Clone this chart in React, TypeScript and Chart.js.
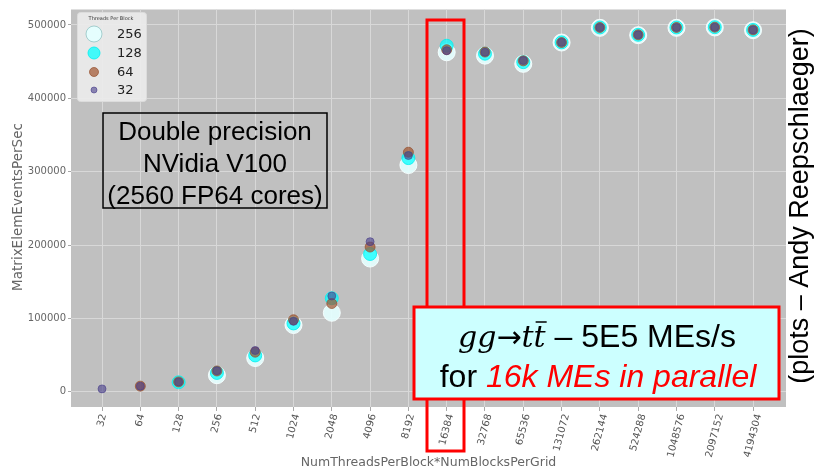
import React, { useEffect, useRef } from 'react';
import { Chart, registerables } from 'chart.js';

Chart.register(...registerables);

// ---------------- data ----------------
const totalThreads = [32, 64, 128, 256, 512, 1024, 2048, 4096, 8192, 16384, 32768, 65536, 131072, 262144, 524288, 1048576, 2097152, 4194304];
const xTickLabels = totalThreads.map(String);
const yTicks = [0, 100000, 200000, 300000, 400000, 500000];
const seriesNames = ['256', '128', '64', '32'];

const mes256 = [null, null, null, 22600, 46000, 91000, 107700, 181600, 309000, 462700, 458100, 446900, 476000, 496000, 486000, 496000, 496500, 492800];
const mes128 = [null, null, 13000, 25700, 49600, 93200, 127500, 187800, 318500, 471600, 460800, 449200, 476200, 496500, 486500, 496500, 496900, 493200];
const mes64 = [null, 7700, 13500, 28400, 54000, 98200, 120300, 197300, 326500, 466200, 463000, 451000, 476000, 496500, 486500, 496500, 496900, 493200];
const mes32 = [4000, 7700, 13500, 28600, 56300, 96000, 130600, 204600, 322000, 464900, 462700, 451400, 476200, 496500, 486500, 496500, 496900, 493200];

const seriesValues = [mes256, mes128, mes64, mes32];
const seriesFill = ['rgba(228,255,255,0.92)', 'rgba(0,255,255,0.72)', 'rgba(160,82,45,0.7)', 'rgba(72,61,139,0.6)'];
const seriesEdge = ['rgba(245,255,255,0.95)', 'rgba(0,240,240,0.8)', 'rgba(150,80,45,0.7)', 'rgba(72,61,139,0.6)'];
const seriesRadius = [8.5, 6.5, 5, 4];
const legendRadius = [8, 6, 4.5, 3];

const DEG = Math.PI / 180;

const overlayPlugin = {
  id: 'overlay',
  beforeDraw(chart: any) {
    const { ctx, chartArea: a } = chart;
    ctx.save();
    ctx.fillStyle = '#c0c0c0';
    ctx.fillRect(a.left, a.top, a.right - a.left, a.bottom - a.top);
    ctx.restore();
  },
  afterDraw(chart: any) {
    const { ctx, chartArea: a } = chart;
    const xs = chart.scales.x;
    ctx.save();

    // x tick labels (rotated 75deg, centered on tick)
    ctx.font = "10px 'DejaVu Sans'";
    ctx.fillStyle = '#555';
    ctx.textAlign = 'center';
    ctx.textBaseline = 'middle';
    const th = 75 * DEG;
    totalThreads.forEach((t, i) => {
      const px = xs.getPixelForValue(Math.log2(t));
      const L = ctx.measureText(xTickLabels[i]).width;
      const h = 10;
      const ht = L * Math.sin(th) + h * Math.cos(th);
      ctx.save();
      ctx.translate(px, a.bottom + 6 + ht / 2);
      ctx.rotate(-th);
      ctx.fillText(xTickLabels[i], 0, 0);
      ctx.restore();
    });

    // axis titles
    ctx.font = "12.5px 'DejaVu Sans'";
    ctx.fillStyle = '#666';
    ctx.fillText('NumThreadsPerBlock*NumBlocksPerGrid', (a.left + a.right) / 2, 463);
    ctx.save();
    ctx.translate(18, 207);
    ctx.rotate(-Math.PI / 2);
    ctx.font = "13.5px 'DejaVu Sans'";
    ctx.fillText('MatrixElemEventsPerSec', 0, 0);
    ctx.restore();

    // legend
    ctx.fillStyle = 'rgba(236,236,236,0.92)';
    ctx.strokeStyle = 'rgba(220,220,220,1)';
    ctx.lineWidth = 1;
    ctx.beginPath();
    (ctx as any).roundRect(77.5, 12.5, 69, 89, 3);
    ctx.fill();
    ctx.stroke();
    ctx.fillStyle = '#333';
    ctx.font = "5px 'DejaVu Sans'";
    ctx.fillText('Threads Per Block', 111, 19);
    const ly = [34, 53, 72, 90];
    seriesNames.forEach((n, i) => {
      ctx.beginPath();
      ctx.arc(94, ly[i], legendRadius[i], 0, Math.PI * 2);
      ctx.fillStyle = seriesFill[i];
      ctx.fill();
      ctx.strokeStyle = i === 0 ? 'rgba(120,180,180,0.6)' : seriesEdge[i];
      ctx.lineWidth = 1;
      ctx.stroke();
      ctx.fillStyle = '#222';
      ctx.font = "13px 'DejaVu Sans'";
      ctx.textAlign = 'left';
      ctx.fillText(n, 117, ly[i] + 1);
      ctx.textAlign = 'center';
    });

    // box 1
    ctx.strokeStyle = '#000';
    ctx.lineWidth = 1.5;
    ctx.strokeRect(103, 113, 224, 95);
    ctx.fillStyle = '#000';
    ctx.font = "26px 'Liberation Sans'";
    ctx.textBaseline = 'alphabetic';
    ctx.fillText('Double precision', 215, 140);
    ctx.fillText('NVidia V100', 215, 172);
    ctx.fillText('(2560 FP64 cores)', 215, 204);

    // tall red box around 16384
    ctx.strokeStyle = '#ff0000';
    ctx.lineWidth = 3;
    ctx.strokeRect(427, 20, 37, 431);

    // box 2
    ctx.fillStyle = '#ccffff';
    ctx.fillRect(414, 307, 365, 92);
    ctx.strokeRect(414, 307, 365, 92);

    // line 1: gg -> t tbar - 5E5 MEs/s
    const mathFont = "italic 30px 'DejaVu Serif'";
    const arrowFont = "30px 'DejaVu Sans'";
    const textFont = "32px 'Liberation Sans'";
    const parts: [string, string][] = [
      ['gg', mathFont],
      ['\u2192', arrowFont],
      ['tt', mathFont],
      [' \u2013 5E5 MEs/s', textFont],
    ];
    let total = 0;
    const widths = parts.map(([s, f]) => { ctx.font = f; const w = ctx.measureText(s).width; total += w; return w; });
    let x = 597 - total / 2;
    const b1 = 347;
    ctx.textAlign = 'left';
    ctx.fillStyle = '#000';
    parts.forEach(([s, f], i) => {
      ctx.font = f;
      ctx.fillText(s, x, b1);
      if (i === 2) {
        // bar over second t
        ctx.font = mathFont;
        const wt = ctx.measureText('t').width;
        ctx.strokeStyle = '#000';
        ctx.lineWidth = 1.5;
        ctx.beginPath();
        ctx.moveTo(x + wt + 2, b1 - 25);
        ctx.lineTo(x + 2 * wt + 1, b1 - 25);
        ctx.stroke();
      }
      x += widths[i];
    });

    // line 2
    const l2a = 'for ';
    const l2b = '16k MEs in parallel';
    ctx.font = "32px 'Liberation Sans'";
    const wa = ctx.measureText(l2a).width;
    ctx.font = "italic 32px 'Liberation Sans'";
    const wb = ctx.measureText(l2b).width;
    const x2 = 598 - (wa + wb) / 2;
    ctx.font = "32px 'Liberation Sans'";
    ctx.fillStyle = '#000';
    ctx.fillText(l2a, x2, 387);
    ctx.font = "italic 32px 'Liberation Sans'";
    ctx.fillStyle = '#ff0000';
    ctx.fillText(l2b, x2 + wa, 387);

    // right side credit
    ctx.save();
    ctx.translate(801, 206);
    ctx.rotate(-Math.PI / 2);
    ctx.textAlign = 'center';
    ctx.textBaseline = 'middle';
    ctx.fillStyle = '#000';
    ctx.font = "27px 'Liberation Sans'";
    ctx.fillText('(plots \u2013 Andy Reepschlaeger)', 0, 0);
    ctx.restore();

    ctx.restore();
  },
};

export default function App() {
  const ref = useRef<HTMLCanvasElement>(null);
  useEffect(() => {
    if (!ref.current) return;
    const datasets = seriesNames.map((name, i) => ({
      label: name,
      data: totalThreads
        .map((t, j) => (seriesValues[i][j] == null ? null : { x: Math.log2(t), y: seriesValues[i][j] as number }))
        .filter((p) => p !== null),
      backgroundColor: seriesFill[i],
      borderColor: seriesEdge[i],
      borderWidth: 1,
      pointRadius: seriesRadius[i],
      pointHoverRadius: seriesRadius[i],
      order: 4 - i,
    }));
    const chart = new Chart(ref.current, {
      type: 'scatter',
      data: { datasets: datasets as any },
      options: {
        responsive: false,
        animation: false,
        devicePixelRatio: 1,
        layout: { padding: { left: 0, right: 34, top: 6, bottom: 0 } },
        plugins: { legend: { display: false }, tooltip: { enabled: false } },
        scales: {
          x: {
            type: 'linear',
            min: 4.19,
            max: 22.86,
            afterBuildTicks: (s: any) => { s.ticks = totalThreads.map((t) => ({ value: Math.log2(t) })); },
            afterFit: (s: any) => { s.height = 65; },
            ticks: { display: false },
            grid: { color: '#d8d8d8', lineWidth: 1, tickLength: 4, tickColor: '#a8a8a8' },
            border: { display: false },
          },
          y: {
            type: 'linear',
            min: -20700,
            max: 521000,
            afterBuildTicks: (s: any) => { s.ticks = yTicks.map((v) => ({ value: v })); },
            afterFit: (s: any) => { s.width = 71; },
            ticks: {
              font: { family: 'DejaVu Sans', size: 10 },
              color: '#666',
              padding: 2,
              callback: (v: any) => String(v),
            },
            grid: { color: '#d8d8d8', lineWidth: 1, tickLength: 3, tickColor: '#a8a8a8' },
            border: { display: false },
          },
        },
      },
      plugins: [overlayPlugin],
    });
    return () => chart.destroy();
  }, []);
  return (
    <div style={{ position: 'absolute', left: 0, top: 0, width: 820, height: 472, background: '#fff' }}>
      <canvas ref={ref} width={820} height={472} style={{ display: 'block' }} />
    </div>
  );
}
